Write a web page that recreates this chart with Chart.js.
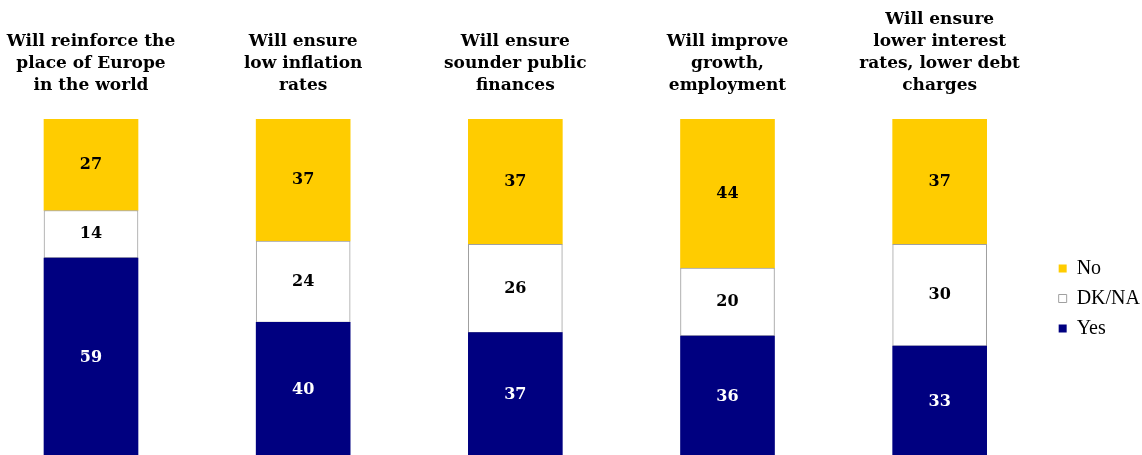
<!DOCTYPE html>
<html>
<head>
    <meta charset="utf-8">
    <title>Expected effects of the euro</title>
    <script src="https://cdn.jsdelivr.net/npm/chart.js"></script>
    <style>
        html, body { margin: 0; padding: 0; overflow: hidden; background: #fff; }
        #wrap { width: 1142px; height: 460px; position: relative; }
    </style>
</head>
<body>
    <div id="wrap"><canvas id="euro-chart"></canvas></div>

    <script>
        const categories = [
            ['Will reinforce the', 'place of Europe', 'in the world'],
            ['Will ensure', 'low inflation', 'rates'],
            ['Will ensure', 'sounder public', 'finances'],
            ['Will improve', 'growth,', 'employment'],
            ['Will ensure', 'lower interest', 'rates, lower debt', 'charges']
        ];
        const yesValues = [59, 40, 37, 36, 33];
        const dkValues = [14, 24, 26, 20, 30];
        const noValues = [27, 37, 37, 44, 37];

        // writes each segment's value in its middle
        const segmentLabels = {
            id: 'segmentLabels',
            afterDatasetsDraw(chart) {
                const ctx = chart.ctx;
                ctx.save();
                ctx.font = 'bold 16px "DejaVu Serif"';
                ctx.textAlign = 'center';
                ctx.textBaseline = 'middle';
                chart.data.datasets.forEach((ds, i) => {
                    const meta = chart.getDatasetMeta(i);
                    meta.data.forEach((bar, j) => {
                        const top = Math.max(bar.y, chart.chartArea.top);
                        ctx.fillStyle = ds.labelColor;
                        ctx.fillText(ds.data[j], bar.x, (top + bar.base) / 2);
                    });
                });
                ctx.restore();
            }
        };

        const ctx = document.getElementById('euro-chart').getContext('2d');
        new Chart(ctx, {
            type: 'bar',
            data: {
                labels: categories,
                datasets: [
                    { label: 'Yes', data: yesValues, backgroundColor: '#000080', borderWidth: 0, labelColor: '#fff' },
                    { label: 'DK/NA', data: dkValues, backgroundColor: '#fff', borderColor: '#a0a0a0', borderWidth: 1, borderSkipped: false, labelColor: '#000' },
                    { label: 'No', data: noValues, backgroundColor: '#ffcc00', borderWidth: 0, labelColor: '#000' }
                ]
            },
            options: {
                responsive: true,
                maintainAspectRatio: false,
                animation: false,
                layout: { padding: { left: 91, right: -8, top: 0, bottom: 2 } },
                datasets: {
                    bar: {
                        barThickness: 94,
                        clip: { left: false, right: false, top: 0, bottom: false }
                    }
                },
                scales: {
                    x: {
                        stacked: true,
                        position: 'top',
                        offset: false,
                        grid: { display: false },
                        border: { display: false },
                        ticks: {
                            maxRotation: 0,
                            autoSkip: false,
                            padding: 14,
                            color: '#000',
                            font: { family: 'DejaVu Serif', size: 17, weight: 'bold', lineHeight: 1.3 }
                        },
                        // the outer labels may run past the plot edges
                        afterFit: scale => {
                            scale.height = 119;
                            scale.paddingLeft = 0;
                            scale.paddingRight = 0;
                        }
                    },
                    y: {
                        stacked: true,
                        min: 0,
                        max: 100,
                        position: 'right',
                        grid: { display: false },
                        border: { display: false },
                        ticks: { display: false },
                        afterFit: scale => { scale.width = 109; }
                    }
                },
                plugins: {
                    legend: {
                        position: 'right',
                        reverse: true,
                        fullSize: false,
                        // blank title only pushes the entries down a little
                        title: { display: true, text: ' ', font: { size: 10, lineHeight: 1.2 }, padding: { top: 8, bottom: 0 } },
                        labels: {
                            boxWidth: 8,
                            boxHeight: 8,
                            padding: 10,
                            color: '#000',
                            font: { family: 'Liberation Serif', size: 20 }
                        }
                    },
                    tooltip: { enabled: false }
                }
            },
            plugins: [segmentLabels]
        });
    </script>
</body>
</html>
